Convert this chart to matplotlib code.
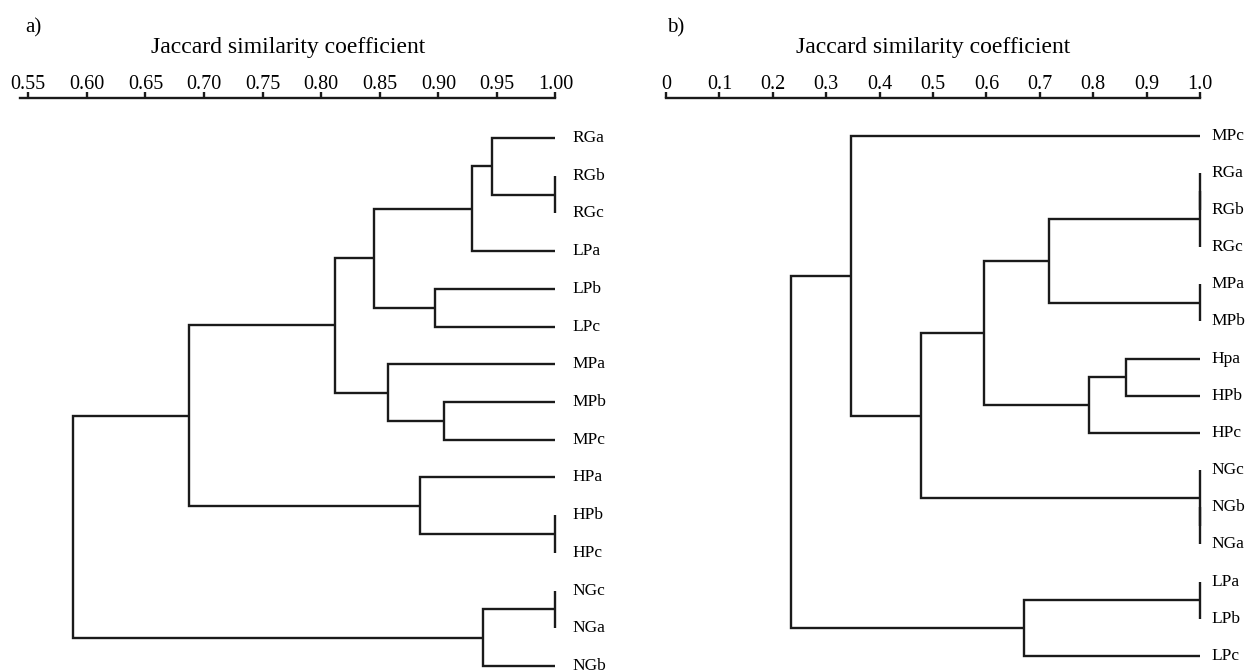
import matplotlib
matplotlib.use("Agg")
import matplotlib.pyplot as plt
from matplotlib.transforms import offset_copy

# panel a: leaf order top to bottom and merges (left id, right id, similarity)
a_leaves = ["RGa", "RGb", "RGc", "LPa", "LPb", "LPc", "MPa", "MPb", "MPc",
            "HPa", "HPb", "HPc", "NGc", "NGa", "NGb"]
a_links = [(1, 2, 1.00), (0, 15, 0.946), (16, 3, 0.929), (4, 5, 0.897),
           (17, 18, 0.845), (7, 8, 0.905), (6, 20, 0.857), (19, 21, 0.812),
           (10, 11, 1.00), (9, 23, 0.884), (22, 24, 0.687), (12, 13, 1.00),
           (26, 14, 0.938), (25, 27, 0.588)]
a_ticks = [0.55, 0.60, 0.65, 0.70, 0.75, 0.80, 0.85, 0.90, 0.95, 1.00]
a_ticklabels = ["0.55", "0.60", "0.65", "0.70", "0.75", "0.80", "0.85", "0.90", "0.95", "1.00"]

# panel b
b_leaves = ["MPc", "RGa", "RGb", "RGc", "MPa", "MPb", "Hpa", "HPb", "HPc",
            "NGc", "NGb", "NGa", "LPa", "LPb", "LPc"]
b_links = [(1, 2, 1.00), (15, 3, 1.00), (4, 5, 1.00), (16, 17, 0.717),
           (6, 7, 0.861), (19, 8, 0.792), (18, 20, 0.596), (10, 11, 1.00),
           (9, 22, 1.00), (21, 23, 0.477), (0, 24, 0.347), (12, 13, 1.00),
           (26, 14, 0.671), (25, 27, 0.235)]
b_ticks = [0, 0.1, 0.2, 0.3, 0.4, 0.5, 0.6, 0.7, 0.8, 0.9, 1.0]
b_ticklabels = ["0", "0.1", "0.2", "0.3", "0.4", "0.5", "0.6", "0.7", "0.8", "0.9", "1.0"]

plt.rcParams['font.family'] = ['Liberation Serif', 'DejaVu Serif']
LINE = "#1a1a1a"
LW = 1.7

W, H = 1258, 672
TOP = 98
fig = plt.figure(figsize=(W / 100, H / 100), dpi=100)


def draw_tree(ax, leaves, links):
    pos = {i: (1.0, float(i)) for i in range(len(leaves))}
    nid = len(leaves)
    for l, r, h in links:
        x1, y1 = pos[l]
        x2, y2 = pos[r]
        ax.plot([x1, h, h, x2], [y1, y1, y2, y2], color=LINE, lw=LW,
                solid_joinstyle="miter", solid_capstyle="butt", clip_on=False)
        pos[nid] = (h, (y1 + y2) / 2)
        nid += 1


def panel(x0, x1, xmin, ylim, leaves, links, ticks, ticklabels, tag, tag_x, label_dx):
    ax = fig.add_axes([x0 / W, 0, (x1 - x0) / W, 1 - TOP / H])
    draw_tree(ax, leaves, links)
    ax.set_xlim(xmin, 1.0)
    ax.set_ylim(*ylim)
    for s in ["right", "bottom", "left"]:
        ax.spines[s].set_visible(False)
    ax.spines["top"].set_linewidth(LW)
    ax.spines["top"].set_color(LINE)
    ax.xaxis.tick_top()
    ax.xaxis.set_label_position("top")
    ax.set_xticks(ticks)
    ax.set_xticklabels(ticklabels, fontsize=14.5)
    ax.tick_params(axis="x", direction="out", length=4.3, width=LW, color=LINE, pad=-1.5)
    ax.set_yticks([])
    ax.set_xlabel("Jaccard similarity coefficient", fontsize=17, labelpad=16)
    tr = offset_copy(ax.transData, fig=fig, x=label_dx, y=0, units="dots")
    for i, name in enumerate(leaves):
        ax.text(1.0, i, name, transform=tr, ha="left", va="center",
                fontsize=12.5, clip_on=False)
    fig.text(tag_x / W, 1 - 28 / H, tag, fontsize=15, ha="left", va="center")
    return ax


panel(20, 555.5, 0.543, (14.16, -1.06), a_leaves, a_links, a_ticks, a_ticklabels, "a)", 25, 17)
panel(666, 1200, 0.0, (14.43, -1.01), b_leaves, b_links, b_ticks, b_ticklabels, "b)", 667, 11)

fig.savefig("out.png", dpi=100)
